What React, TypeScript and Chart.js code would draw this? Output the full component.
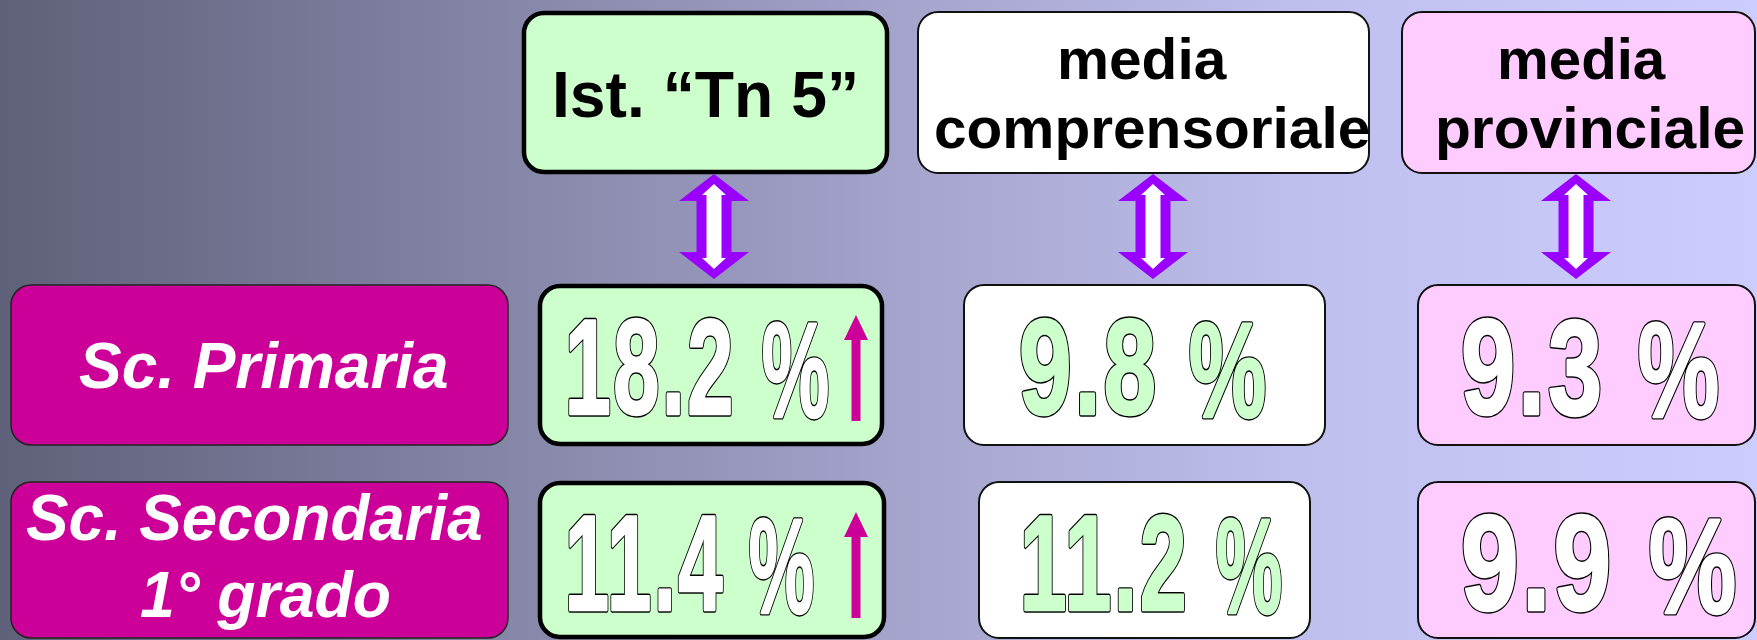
import { useEffect, useRef } from "react";
import { Chart, registerables } from "chart.js";

Chart.register(...registerables);

// ---------- DATA ----------
const columnHeaders = ["Ist. “Tn 5”", "media\ncomprensoriale", "media\nprovinciale"];
const rowLabels = ["Sc. Primaria", "Sc. Secondaria\n1° grado"];
const istituto = [18.2, 11.4];
const comprensoriale = [9.8, 11.2];
const provinciale = [9.3, 9.9];
const istitutoTrend = ["up", "up"];
const seriesValues = [istituto, comprensoriale, provinciale];

// ---------- STYLE ----------
const FONT = '"Liberation Sans", Arial, Helvetica, sans-serif';
const MAGENTA = "#cc0099";
const PURPLE = "#9900ff";
const colStyle = [
  { fill: "#ccffcc", border: "#000000", lw: 4.5, valueFill: "#ffffff" },
  { fill: "#ffffff", border: "#111111", lw: 2, valueFill: "#ccffcc" },
  { fill: "#ffccff", border: "#111111", lw: 2, valueFill: "#ffffff" },
];
const VALUE_FONT_SIZE = 135;
const VALUE_EMBOLDEN = 2.5;
const VALUE_OUTLINE = 1.4;
const VALUE_SPACING = "4px";

// ---------- LAYOUT (offsets from scale anchors) ----------
const HEADER_BOX = [
  { l: -178, r: 185 },
  { l: -226, r: 225 },
  { l: -184, r: 169 },
];
const HEADER_Y = { t: -80, b: 81 };
const HEADER_TEXT = [
  [{ l: -146, r: 153, base: 25, size: 64 }],
  [
    { l: -84, r: 83, base: -13, size: 58 },
    { l: -208, r: 225, base: 56, size: 58 },
  ],
  [
    { l: -86, r: 80, base: -13, size: 58 },
    { l: -148, r: 158, base: 56, size: 58 },
  ],
];
const HEADER_ARROW_DX = [12, 9, -10];
const HEADER_ARROW_Y = { t: 82, b: 187 };
const ROW_Y = [
  { t: -41, b: 119 },
  { t: -78, b: 78 },
];
const LABEL_BOX = { l: -249, r: 248 };
const LABEL_TEXT = [
  [{ l: -181, r: 187, base: 62 }],
  [
    { l: -234, r: 221, base: -20 },
    { l: -119, r: 130, base: 57 },
  ],
];
const VALUE_BOX = [
  [
    { l: -162, r: 180 },
    { l: -180, r: 181 },
    { l: -168, r: 169 },
  ],
  [
    { l: -162, r: 182 },
    { l: -165, r: 166 },
    { l: -168, r: 169 },
  ],
];
const VALUE_TEXT = [
  [
    { nl: -134, nr: 30, pl: 60, pr: 127 },
    { nl: -124, nr: 11, pl: 45, pr: 122 },
    { nl: -124, nr: 15, pl: 52, pr: 133 },
  ],
  [
    { nl: -134, nr: 22, pl: 47, pr: 112 },
    { nl: -121, nr: 41, pl: 72, pr: 138 },
    { nl: -124, nr: 24, pl: 63, pr: 150 },
  ],
];
const VALUE_BOTTOM = [91, 53];
const TREND_ARROW = { dx: 154, rows: [{ t: -11, b: 95 }, { t: -48, b: 58 }] };

function drawFit(
  ctx: CanvasRenderingContext2D,
  text: string,
  left: number,
  right: number,
  baseline: number,
  font: string,
  fill: string
) {
  ctx.save();
  ctx.font = font;
  ctx.textAlign = "left";
  ctx.textBaseline = "alphabetic";
  const m = ctx.measureText(text);
  const ink = m.actualBoundingBoxLeft + m.actualBoundingBoxRight;
  const sx = ink > 0 ? (right - left) / ink : 1;
  ctx.translate(left + m.actualBoundingBoxLeft * sx, baseline);
  ctx.scale(sx, 1);
  ctx.fillStyle = fill;
  ctx.fillText(text, 0, 0);
  ctx.restore();
}

function drawOutlined(
  ctx: CanvasRenderingContext2D,
  text: string,
  left: number,
  right: number,
  bottom: number,
  fill: string
) {
  ctx.save();
  ctx.font = `bold ${VALUE_FONT_SIZE}px ${FONT}`;
  ctx.textAlign = "left";
  ctx.textBaseline = "alphabetic";
  (ctx as any).letterSpacing = VALUE_SPACING;
  const m = ctx.measureText(text);
  const core = m.actualBoundingBoxLeft + m.actualBoundingBoxRight;
  const ext = VALUE_EMBOLDEN / 2 + VALUE_OUTLINE;
  const sx = (right - left) / (core + 2 * ext);
  ctx.translate(left + (ext + m.actualBoundingBoxLeft) * sx, bottom - ext);
  ctx.scale(sx, 1);
  ctx.lineJoin = "round";
  ctx.strokeStyle = "#000000";
  ctx.lineWidth = VALUE_EMBOLDEN + 2 * VALUE_OUTLINE;
  ctx.strokeText(text, 0, 0);
  ctx.strokeStyle = fill;
  ctx.lineWidth = VALUE_EMBOLDEN;
  ctx.strokeText(text, 0, 0);
  ctx.fillStyle = fill;
  ctx.fillText(text, 0, 0);
  ctx.restore();
}

function box(ctx: CanvasRenderingContext2D, l: number, t: number, r: number, b: number, fill: string, border: string, lw: number) {
  ctx.save();
  ctx.beginPath();
  (ctx as any).roundRect(l, t, r - l, b - t, 20);
  ctx.fillStyle = fill;
  ctx.fill();
  ctx.lineWidth = lw;
  ctx.strokeStyle = border;
  ctx.stroke();
  ctx.restore();
}

function doubleArrow(ctx: CanvasRenderingContext2D, cx: number, t: number, b: number) {
  ctx.save();
  const hh = 27, hw = 35, sw = 17.5;
  ctx.beginPath();
  ctx.moveTo(cx, t);
  ctx.lineTo(cx + hw, t + hh);
  ctx.lineTo(cx + sw, t + hh);
  ctx.lineTo(cx + sw, b - hh);
  ctx.lineTo(cx + hw, b - hh);
  ctx.lineTo(cx, b);
  ctx.lineTo(cx - hw, b - hh);
  ctx.lineTo(cx - sw, b - hh);
  ctx.lineTo(cx - sw, t + hh);
  ctx.lineTo(cx - hw, t + hh);
  ctx.closePath();
  ctx.fillStyle = PURPLE;
  ctx.fill();
  const it = t + 10, ib = b - 10, ihh = 11, ihw = 12, isw = 7.5;
  ctx.beginPath();
  ctx.moveTo(cx, it);
  ctx.lineTo(cx + ihw, it + ihh);
  ctx.lineTo(cx + isw, it + ihh);
  ctx.lineTo(cx + isw, ib - ihh);
  ctx.lineTo(cx + ihw, ib - ihh);
  ctx.lineTo(cx, ib);
  ctx.lineTo(cx - ihw, ib - ihh);
  ctx.lineTo(cx - isw, ib - ihh);
  ctx.lineTo(cx - isw, it + ihh);
  ctx.lineTo(cx - ihw, it + ihh);
  ctx.closePath();
  ctx.fillStyle = "#ffffff";
  ctx.fill();
  ctx.restore();
}

function upArrow(ctx: CanvasRenderingContext2D, cx: number, t: number, b: number) {
  ctx.save();
  ctx.fillStyle = MAGENTA;
  const hh = 25, hw = 12, sw = 4.5;
  ctx.beginPath();
  ctx.moveTo(cx, t);
  ctx.lineTo(cx + hw, t + hh);
  ctx.lineTo(cx + sw, t + hh);
  ctx.lineTo(cx + sw, b);
  ctx.lineTo(cx - sw, b);
  ctx.lineTo(cx - sw, t + hh);
  ctx.lineTo(cx - hw, t + hh);
  ctx.closePath();
  ctx.fill();
  ctx.restore();
}

const infographic = {
  id: "infographic",
  beforeDraw(chart: any) {
    const ctx: CanvasRenderingContext2D = chart.ctx;
    const w = chart.width, h = chart.height;
    const g = ctx.createLinearGradient(0, 0, w, 0);
    g.addColorStop(0, "#5f6079");
    g.addColorStop(0.5, "#a2a2ca");
    g.addColorStop(0.75, "#c0c0ef");
    g.addColorStop(1, "#ccccff");
    ctx.save();
    ctx.fillStyle = g;
    ctx.fillRect(0, 0, w, h);
    ctx.restore();
  },
  afterDraw(chart: any) {
    const ctx: CanvasRenderingContext2D = chart.ctx;
    const xs = chart.scales.x, ys = chart.scales.y;
    const hy = ys.getPixelForValue(0);

    // header boxes
    columnHeaders.forEach((hdr, c) => {
      const ax = xs.getPixelForValue(c + 1);
      const st = colStyle[c];
      const inset = st.lw > 3 ? 1 : 0;
      box(ctx, ax + HEADER_BOX[c].l, hy + HEADER_Y.t + inset, ax + HEADER_BOX[c].r, hy + HEADER_Y.b - inset, st.fill, st.border, st.lw);
      hdr.split("\n").forEach((line, i) => {
        const tl = HEADER_TEXT[c][i];
        drawFit(ctx, line, ax + tl.l, ax + tl.r, hy + tl.base, `bold ${tl.size}px ${FONT}`, "#000000");
      });
      doubleArrow(ctx, ax + HEADER_ARROW_DX[c], hy + HEADER_ARROW_Y.t, hy + HEADER_ARROW_Y.b);
    });

    // rows
    rowLabels.forEach((lab, r) => {
      const ay = ys.getPixelForValue(r + 1);
      const lx = xs.getPixelForValue(0);
      box(ctx, lx + LABEL_BOX.l, ay + ROW_Y[r].t, lx + LABEL_BOX.r, ay + ROW_Y[r].b, MAGENTA, "#222222", 1.5);
      lab.split("\n").forEach((line, i) => {
        const tl = LABEL_TEXT[r][i];
        drawFit(ctx, line, lx + tl.l, lx + tl.r, ay + tl.base, `italic bold 64px ${FONT}`, "#ffffff");
      });

      seriesValues.forEach((series, c) => {
        const meta = chart.getDatasetMeta(c + 1);
        const el = meta.data[r];
        const ax = el.x, vy = el.y;
        const st = colStyle[c];
        const inset = st.lw > 3 ? 1 : 0;
        const bx = VALUE_BOX[r][c];
        box(ctx, ax + bx.l, vy + ROW_Y[r].t + inset, ax + bx.r, vy + ROW_Y[r].b - inset, st.fill, st.border, st.lw);
        const vt = VALUE_TEXT[r][c];
        const bottom = vy + VALUE_BOTTOM[r];
        drawOutlined(ctx, series[r].toFixed(1), ax + vt.nl, ax + vt.nr, bottom, st.valueFill);
        drawOutlined(ctx, "%", ax + vt.pl, ax + vt.pr, bottom + 3, st.valueFill);
        if (c === 0 && istitutoTrend[r] === "up") {
          upArrow(ctx, ax + TREND_ARROW.dx, vy + TREND_ARROW.rows[r].t, vy + TREND_ARROW.rows[r].b);
        }
      });
    });
  },
};

export default function App() {
  const ref = useRef<HTMLCanvasElement | null>(null);
  useEffect(() => {
    document.body.style.margin = "0";
    const canvas = ref.current;
    if (!canvas) return;
    const datasets = [
      { label: "righe", data: rowLabels.map((_, r) => ({ x: 0, y: r + 1 })) },
      ...seriesValues.map((s, c) => ({
        label: columnHeaders[c].replace("\n", " "),
        data: s.map((_, r) => ({ x: c + 1, y: r + 1 })),
      })),
    ];
    const chart = new Chart(canvas, {
      type: "scatter",
      data: { datasets },
      options: {
        responsive: false,
        animation: false,
        events: [],
        devicePixelRatio: 1,
        layout: { padding: { left: 260, right: 171, top: 92, bottom: 80 } },
        elements: { point: { radius: 0, hoverRadius: 0 } },
        scales: {
          x: { type: "linear", min: 0, max: 3, display: false },
          y: { type: "linear", min: 0, max: 2, reverse: true, display: false },
        },
        plugins: { legend: { display: false }, tooltip: { enabled: false } },
      },
      plugins: [infographic],
    } as any);
    return () => chart.destroy();
  }, []);
  return (
    <div style={{ width: 1757, height: 640, overflow: "hidden" }}>
      <canvas ref={ref} width={1757} height={640} style={{ display: "block" }} />
    </div>
  );
}
